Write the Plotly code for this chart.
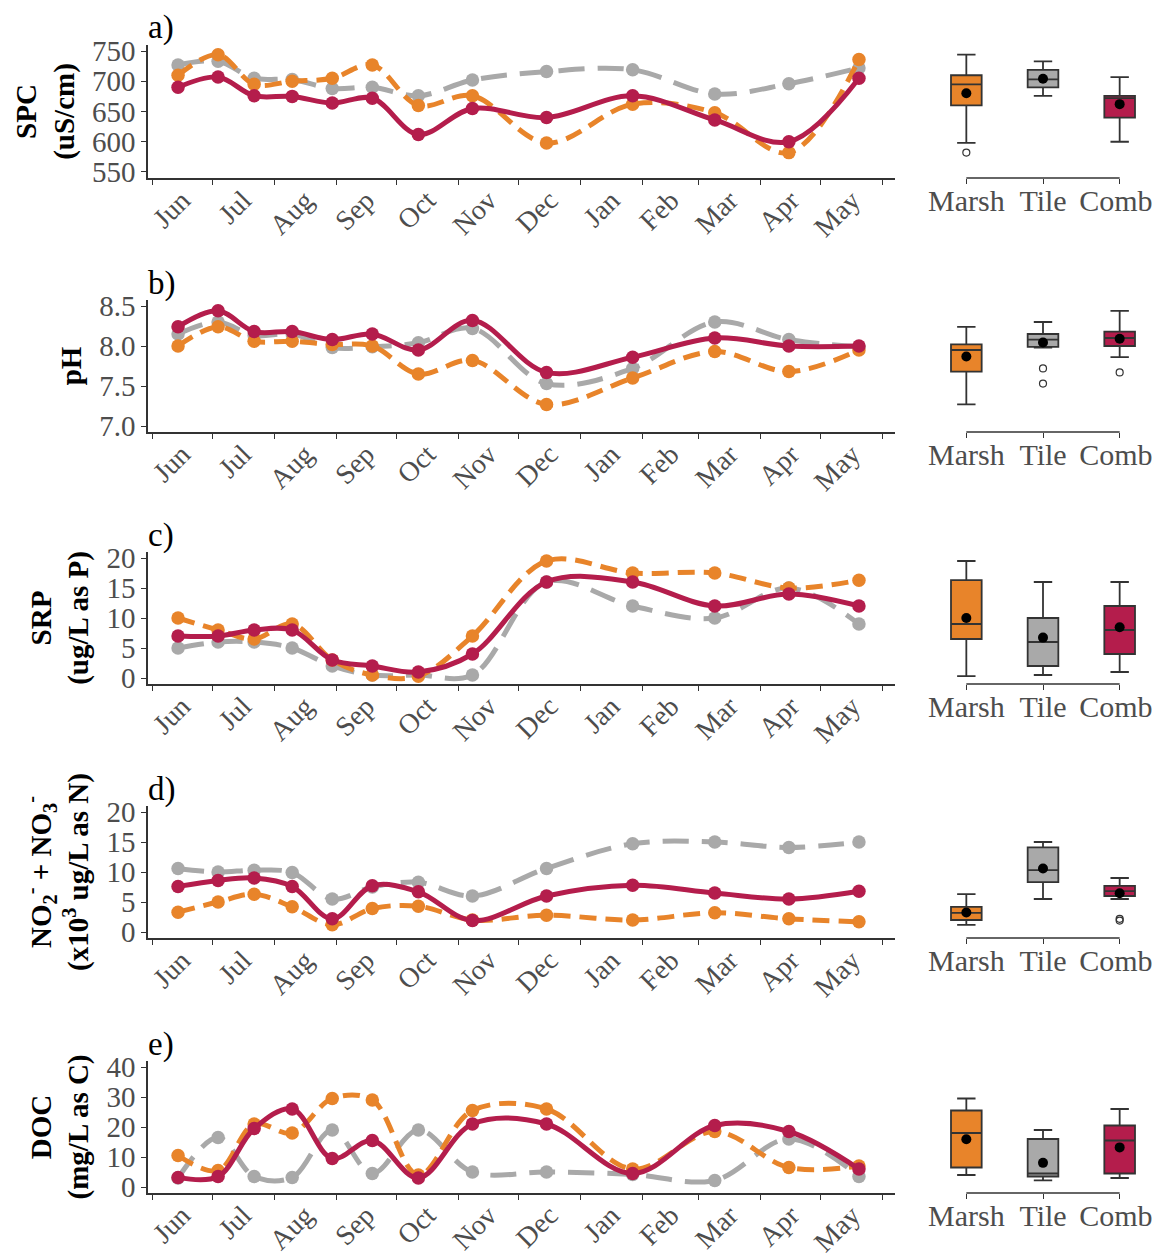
import numpy as np
import plotly.graph_objects as go

# ---------------- data ----------------
dates = ["2017-06-14", "2017-07-04", "2017-07-22", "2017-08-10", "2017-08-30",
         "2017-09-19", "2017-10-12", "2017-11-08", "2017-12-15", "2018-01-27",
         "2018-03-09", "2018-04-15", "2018-05-20"]
sites = ["Marsh", "Tile", "Comb."]

spc_marsh = [710, 744, 695, 700, 705, 727, 660, 676, 598, 662, 648, 582, 736]
spc_tile = [727, 733, 705, 703, 688, 690, 676, 702, 716, 719, 679, 696, 722]
spc_comb = [690, 707, 676, 675, 664, 672, 612, 655, 640, 676, 636, 600, 705]

ph_marsh = [8.00, 8.24, 8.06, 8.06, 8.02, 8.00, 7.65, 7.82, 7.27, 7.60, 7.93, 7.68, 7.95]
ph_tile = [8.15, 8.30, 8.13, 8.15, 7.98, 7.99, 8.04, 8.22, 7.53, 7.72, 8.30, 8.08, 7.99]
ph_comb = [8.24, 8.44, 8.18, 8.18, 8.08, 8.15, 7.95, 8.32, 7.67, 7.86, 8.10, 8.00, 8.00]

srp_marsh = [10, 8, 6.5, 9, 3, 0.5, 0.3, 7, 19.5, 17.5, 17.5, 15, 16.3]
srp_tile = [5, 6, 6, 5, 2, 0.5, 0.5, 0.5, 16, 12, 10, 15, 9]
srp_comb = [7, 7, 8, 8, 3, 2, 1, 4, 16, 16, 12, 14, 12]

nox_marsh = [3.3, 5.0, 6.3, 4.2, 1.2, 3.9, 4.3, 2.0, 2.8, 2.0, 3.2, 2.2, 1.7]
nox_tile = [10.6, 10.0, 10.3, 9.9, 5.5, 7.5, 8.3, 6.0, 10.6, 14.7, 15.0, 14.1, 15.0]
nox_comb = [7.6, 8.6, 9.0, 7.6, 2.2, 7.7, 6.7, 1.9, 6.0, 7.8, 6.5, 5.5, 6.8]

doc_marsh = [10.5, 5.5, 21, 18, 29.5, 29, 4, 25.5, 26, 6, 18.5, 6.5, 7]
doc_tile = [3, 16.5, 3.5, 3.2, 19, 4.5, 19, 5, 5, 4.2, 2.2, 16, 3.5]
doc_comb = [3.2, 3.5, 19.5, 26, 9.5, 15.5, 3, 21, 21, 4.5, 20.5, 18.5, 6]

panel_letters = ["a)", "b)", "c)", "d)", "e)"]
y_titles = ["<b>SPC</b><br><b>(uS/cm)</b>",
            "<b>pH</b>",
            "<b>SRP</b><br><b>(ug/L as P)</b>",
            "<b>NO<sub>2</sub><sup>-</sup> + NO<sub>3</sub><sup>-</sup></b><br><b>(x10<sup>3</sup> ug/L as N)</b>",
            "<b>DOC</b><br><b>(mg/L as C)</b>"]
y_ticks = [[550, 600, 650, 700, 750],
           [7.0, 7.5, 8.0, 8.5],
           [0, 5, 10, 15, 20],
           [0, 5, 10, 15, 20],
           [0, 10, 20, 30, 40]]
y_ranges = [[540, 760], [6.925, 8.575], [-1, 21], [-1, 21], [-2, 42]]
y_formats = ["d", ".1f", "d", "d", "d"]

panels = [
    (spc_marsh, spc_tile, spc_comb),
    (ph_marsh, ph_tile, ph_comb),
    (srp_marsh, srp_tile, srp_comb),
    (nox_marsh, nox_tile, nox_comb),
    (doc_marsh, doc_tile, doc_comb),
]

# ---------------- styles ----------------
colors = {"Marsh": "#E8842A", "Tile": "#A9A9A9", "Comb.": "#B41D4C"}
dashes = {"Marsh": "17px,9px", "Tile": "26px,13px", "Comb.": "solid"}
draw_order = ["Tile", "Marsh", "Comb."]
FONT = "Liberation Serif"
AX = "#333333"
TICKC = "#4d4d4d"

# the page body adds an 8px margin, so the figure is laid out 8px smaller
OFF = 8
W, H = 1162 - OFF, 1260 - OFF


def px_x(v):
    return (v - OFF) / W


line_dom = [px_x(148), px_x(895)]
box_dom = [px_x(928), px_x(1158)]
rows_px = [(45, 178), (300, 432), (552, 684), (806, 938), (1061, 1193)]

fig = go.Figure()
layout = {}

for i, (series, (top, bot)) in enumerate(zip(panels, rows_px)):
    la = 2 * i + 1
    ba = 2 * i + 2
    ydom = [1 - (bot - OFF) / H, 1 - (top - OFF) / H]
    data = dict(zip(sites, series))

    for s in draw_order:
        fig.add_trace(go.Scatter(
            x=dates, y=data[s], mode="lines+markers",
            line=dict(color=colors[s], width=5, dash=dashes[s],
                      shape="spline", smoothing=1.0),
            marker=dict(size=13.5, color=colors[s]),
            xaxis=f"x{la}", yaxis=f"y{la}", showlegend=False, cliponaxis=False))

    for s in sites:
        fig.add_trace(go.Box(
            x=[s] * len(data[s]), y=data[s], name=s,
            xaxis=f"x{ba}", yaxis=f"y{ba}",
            fillcolor=colors[s], line=dict(color=AX, width=1.8),
            marker=dict(symbol="circle-open", color=AX, size=7,
                        line=dict(width=1.2, color=AX)),
            boxpoints="outliers", pointpos=0, jitter=0,
            width=0.4, whiskerwidth=0.6, quartilemethod="inclusive",
            showlegend=False))
    fig.add_trace(go.Scatter(
        x=sites, y=[float(np.mean(data[s])) for s in sites], mode="markers",
        marker=dict(color="black", size=10),
        xaxis=f"x{ba}", yaxis=f"y{ba}", showlegend=False))

    layout[f"xaxis{la}"] = dict(
        domain=line_dom, anchor=f"y{la}", type="date", automargin=False,
        range=["2017-05-30", "2018-06-07"],
        tick0="2017-06-01", dtick="M1", tickformat="%b",
        ticklabelmode="period", tickangle=-45, ticklabelstandoff=-12,
        showline=True, linecolor=AX, linewidth=1.6,
        ticks="outside", ticklen=5, tickcolor=AX, tickwidth=1.3,
        tickfont=dict(family=FONT, size=28, color=TICKC),
        showgrid=False, zeroline=False)
    layout[f"yaxis{la}"] = dict(
        domain=ydom, anchor=f"x{la}", range=y_ranges[i], automargin=False,
        tickvals=y_ticks[i], tickformat=y_formats[i],
        showline=True, linecolor=AX, linewidth=1.6,
        ticks="outside", ticklen=5, tickcolor=AX, tickwidth=1.3,
        tickfont=dict(family=FONT, size=29, color=TICKC),
        title=dict(text=y_titles[i], font=dict(family=FONT, size=29, color="black"),
                   standoff=9),
        showgrid=False, zeroline=False)
    layout[f"xaxis{ba}"] = dict(
        domain=box_dom, anchor=f"y{ba}", type="category", automargin=False,
        categoryorder="array", categoryarray=sites, range=[-0.5, 2.5],
        showline=False, ticks="outside", ticklen=5, tickcolor=AX, tickwidth=1.3,
        ticklabelstandoff=-9,
        tickfont=dict(family=FONT, size=30, color=TICKC),
        showgrid=False, zeroline=False)
    layout[f"yaxis{ba}"] = dict(
        domain=ydom, anchor=f"x{ba}", range=y_ranges[i], automargin=False,
        showline=False, showticklabels=False, ticks="",
        showgrid=False, zeroline=False)

    fig.add_shape(type="line", xref=f"x{ba}", yref=f"y{ba} domain",
                  x0=0, x1=2, y0=0, y1=0, line=dict(color=AX, width=1.6))
    fig.add_annotation(text=panel_letters[i], xref="paper", yref="paper",
                       x=px_x(146), y=1 - (top - 17 - OFF) / H,
                       xanchor="left", yanchor="middle",
                       showarrow=False, font=dict(family=FONT, size=33, color="black"))

fig.update_layout(
    width=W, height=H, margin=dict(l=0, r=0, t=0, b=0, autoexpand=False),
    paper_bgcolor="white", plot_bgcolor="white",
    font=dict(family=FONT), boxmode="overlay", **layout)

fig.write_html("out.html")
